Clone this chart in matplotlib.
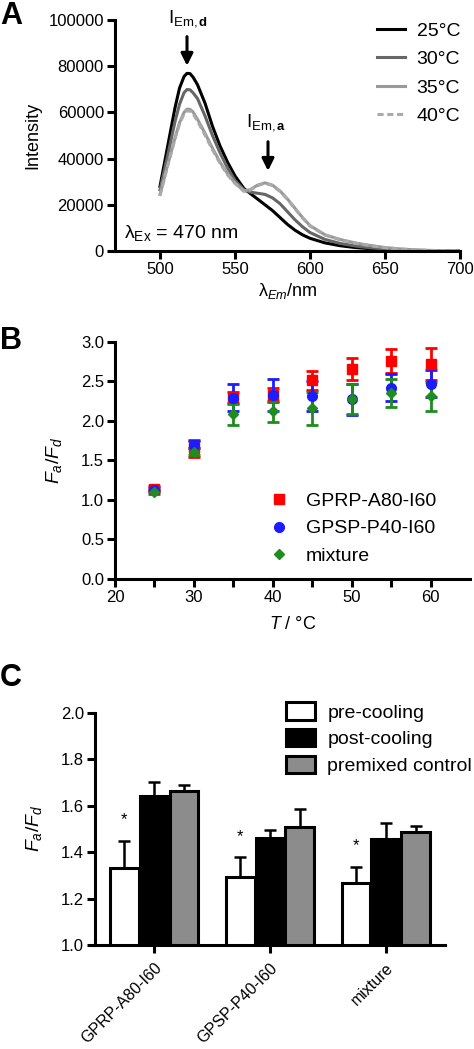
import numpy as np
import matplotlib
matplotlib.use('Agg')
import matplotlib.pyplot as plt
from matplotlib.patches import Patch
from matplotlib.lines import Line2D

plt.rcParams['font.family'] = ['Liberation Sans', 'DejaVu Sans']
plt.rcParams['mathtext.fontset'] = 'custom'
plt.rcParams['mathtext.rm'] = 'Liberation Sans'
plt.rcParams['mathtext.it'] = 'Liberation Sans:italic'
plt.rcParams['mathtext.bf'] = 'Liberation Sans:bold'

# ---- Panel A: emission spectra ----
wavelength = [500, 505, 510, 513, 516, 518, 520, 522, 525, 530, 535, 540, 545, 550, 556, 560,
              565, 570, 575, 580, 585, 590, 595, 600, 610, 620, 630, 640, 650, 660, 670, 680,
              690, 700]
int_25 = [28000, 45000, 62000, 70500, 75500, 76900, 76800, 75300, 72000, 64000, 54000, 45500,
          38500, 32500, 27000, 25000, 22500, 20000, 17500, 14500, 11500, 9000, 7000, 5500, 3500,
          2300, 1500, 1000, 600, 350, 200, 100, 50, 0]
int_30 = [26500, 41000, 56000, 63500, 68500, 69900, 69800, 68500, 66000, 58500, 50000, 42500,
          36000, 30500, 26500, 25500, 25000, 24500, 23000, 20500, 17000, 13500, 10500, 8000, 5000,
          3300, 2200, 1400, 900, 500, 300, 150, 80, 30]
int_35 = [24500, 37000, 49000, 55500, 60000, 61400, 61300, 60200, 57000, 51000, 44500, 38500,
          33500, 29500, 26000, 26500, 28500, 29500, 28500, 26000, 22500, 18500, 14500, 11000,
          7000, 5000, 3500, 2400, 1500, 900, 500, 250, 120, 50]
int_40 = [24000, 36500, 48500, 55000, 59400, 60700, 60600, 59500, 56200, 50200, 43800, 38000,
          33000, 29200, 25800, 26300, 28300, 29300, 28300, 25800, 22300, 18300, 14300, 10800,
          6900, 4900, 3400, 2300, 1450, 850, 480, 240, 110, 40]
spectra_labels = ['25°C', '30°C', '35°C', '40°C']

# ---- Panel B: Fa/Fd vs temperature ----
temps = [25, 30, 35, 40, 45, 50, 55, 60]
gprp_mean = [1.14, 1.65, 2.30, 2.33, 2.51, 2.66, 2.76, 2.72]
gprp_err = [0.03, 0.11, 0.07, 0.09, 0.12, 0.14, 0.15, 0.20]
gpsp_mean = [1.13, 1.70, 2.29, 2.33, 2.31, 2.27, 2.42, 2.47]
gpsp_err = [0.02, 0.05, 0.17, 0.20, 0.19, 0.20, 0.17, 0.17]
mix_mean = [1.10, 1.61, 2.08, 2.12, 2.16, 2.27, 2.35, 2.31]
mix_err = [0.02, 0.04, 0.13, 0.13, 0.21, 0.19, 0.18, 0.18]

# ---- Panel C: bar chart ----
groups = ['GPRP-A80-I60', 'GPSP-P40-I60', 'mixture']
pre_mean = [1.333, 1.294, 1.265]
pre_err = [0.116, 0.083, 0.072]
post_mean = [1.643, 1.461, 1.455]
post_err = [0.060, 0.034, 0.069]
ctrl_mean = [1.661, 1.509, 1.485]
ctrl_err = [0.028, 0.075, 0.027]
bar_labels = ['pre-cooling', 'post-cooling', 'premixed control']

W, H = 474, 1049
fig = plt.figure(figsize=(W / 100, H / 100), dpi=100)

def style_axes(ax):
    for s in ['top', 'right']:
        ax.spines[s].set_visible(False)
    for s in ['left', 'bottom']:
        ax.spines[s].set_linewidth(2.2)
    ax.tick_params(which='both', width=2.2, length=6, pad=2, labelsize=12, direction='out')

# Panel A
axA = fig.add_axes([115 / W, 1 - 251 / H, 345 / W, 231 / H])
style_axes(axA)
colors_A = ['black', '#666666', '#999999', '#aaaaaa']
axA.plot(wavelength, int_25, color=colors_A[0], lw=2.2, label=spectra_labels[0])
axA.plot(wavelength, int_30, color=colors_A[1], lw=2.2, label=spectra_labels[1])
axA.plot(wavelength, int_35, color=colors_A[2], lw=2.2, label=spectra_labels[2])
axA.plot(wavelength, int_40, color=colors_A[3], lw=2.2, ls=(0, (2, 1.2)), label=spectra_labels[3])
axA.set_xlim(470, 700)
axA.set_ylim(0, 100000)
axA.set_xticks([500, 550, 600, 650, 700])
axA.set_yticks(range(0, 100001, 20000))
axA.set_ylabel('Intensity', fontsize=13, labelpad=5)
axA.set_xlabel(r'$\mathregular{λ}_{\mathit{Em}}$/nm', fontsize=13, labelpad=3)
axA.legend(loc='upper left', bbox_to_anchor=(0.759, 0.99), frameon=False, fontsize=14,
           handlelength=1.45, handletextpad=0.6, labelspacing=0.55, borderpad=0, borderaxespad=0)
axA.annotate('', xy=(518, 79000), xytext=(518, 94000),
             arrowprops=dict(arrowstyle='-|>', color='black', lw=2.2, mutation_scale=18))
axA.text(519, 96000, r'$\mathrm{I}_{\mathrm{Em,}\mathbf{d}}$', fontsize=13.5, ha='center', va='bottom')
axA.annotate('', xy=(572, 33500), xytext=(572, 48500),
             arrowprops=dict(arrowstyle='-|>', color='black', lw=2.2, mutation_scale=18))
axA.text(571, 51000, r'$\mathrm{I}_{\mathrm{Em,}\mathbf{a}}$', fontsize=13.5, ha='center', va='bottom')
axA.text(476, 8000, r'$\mathregular{λ_{Ex}}$ = 470 nm', fontsize=14, ha='left', va='center')
fig.text(0.0, 1 - 16 / H, 'A', fontsize=22, fontweight='bold', va='center', ha='left')

# Panel B
axB = fig.add_axes([115 / W, 1 - 579 / H, 355 / W, 237.3 / H])
style_axes(axB)
eb_kw = dict(capsize=4.3, elinewidth=2, capthick=2, linestyle='none')
axB.errorbar(temps, gprp_mean, yerr=gprp_err, fmt='s', color='#ff0000', ms=6.5,
             label='GPRP-A80-I60', **eb_kw)
axB.errorbar(temps, gpsp_mean, yerr=gpsp_err, fmt='o', color='#1c1cff', ms=7,
             label='GPSP-P40-I60', **eb_kw)
axB.errorbar(temps, mix_mean, yerr=mix_err, fmt='D', color='#1e8c1e', ms=5,
             label='mixture', **eb_kw)
axB.set_xlim(20, 65)
axB.set_ylim(0, 3.0)
axB.set_xticks([20, 30, 40, 50, 60])
axB.set_xticks([25, 35, 45, 55], minor=True)
axB.set_yticks(np.arange(0, 3.01, 0.5))
axB.set_yticklabels(['%.1f' % v for v in np.arange(0, 3.01, 0.5)])
axB.set_ylabel(r'$\mathit{F_a/F_d}$', fontsize=14, labelpad=12)
axB.set_xlabel(r'$\mathit{T}$ / °C', fontsize=13, labelpad=8)
handlesB = [Line2D([], [], marker='s', color='#ff0000', ls='none', ms=6.5),
            Line2D([], [], marker='o', color='#1c1cff', ls='none', ms=7),
            Line2D([], [], marker='D', color='#1e8c1e', ls='none', ms=5)]
axB.legend(handlesB, ['GPRP-A80-I60', 'GPSP-P40-I60', 'mixture'], loc='upper left',
           bbox_to_anchor=(0.434, 0.365), frameon=False, fontsize=14, handlelength=1.0,
           handletextpad=0.9, labelspacing=0.5, borderpad=0, borderaxespad=0, numpoints=1)
fig.text(0.0, 1 - 341 / H, 'B', fontsize=22, fontweight='bold', va='center', ha='left')

# Panel C
axC = fig.add_axes([95 / W, 1 - 945 / H, 350 / W, 232.3 / H])
style_axes(axC)
x = np.arange(len(groups))
bw = 0.25
off = 0.258
err_kw = dict(ecolor='black', elinewidth=1.8, capsize=4.5, capthick=1.8)
axC.bar(x - off, pre_mean, bw, yerr=[np.zeros(3), pre_err], color='white', edgecolor='black',
        linewidth=2.2, error_kw=err_kw, label=bar_labels[0])
axC.bar(x, post_mean, bw, yerr=[np.zeros(3), post_err], color='black', edgecolor='black',
        linewidth=2.2, error_kw=err_kw, label=bar_labels[1])
axC.bar(x + off, ctrl_mean, bw, yerr=[np.zeros(3), ctrl_err], color='#8c8c8c', edgecolor='black',
        linewidth=2.2, error_kw=err_kw, label=bar_labels[2])
for i in range(len(groups)):
    axC.text(x[i] - off, pre_mean[i] + pre_err[i] + 0.09, '*', fontsize=12, ha='center', va='center')
axC.set_xlim(-0.51, 2.51)
axC.set_ylim(1.0, 2.0)
axC.set_yticks(np.arange(1.0, 2.01, 0.2))
axC.set_yticklabels(['%.1f' % v for v in np.arange(1.0, 2.01, 0.2)])
axC.set_xticks(x)
axC.set_xticklabels(groups, rotation=45, ha='right', va='top', rotation_mode='anchor', fontsize=11.5)
axC.tick_params(axis='x', pad=5)
axC.set_ylabel(r'$\mathit{F_a/F_d}$', fontsize=14, labelpad=12)
handlesC = [Patch(facecolor=c, edgecolor='black', linewidth=2.2) for c in ['white', 'black', '#8c8c8c']]
axC.legend(handlesC, bar_labels, loc='upper left', bbox_to_anchor=(0.546, 1.045), frameon=False,
           fontsize=14, handlelength=1.5, handleheight=1.0, handletextpad=0.62, labelspacing=0.38,
           borderpad=0, borderaxespad=0)
fig.text(0.0, 1 - 678 / H, 'C', fontsize=22, fontweight='bold', va='center', ha='left')

fig.savefig('out.png', dpi=100)
